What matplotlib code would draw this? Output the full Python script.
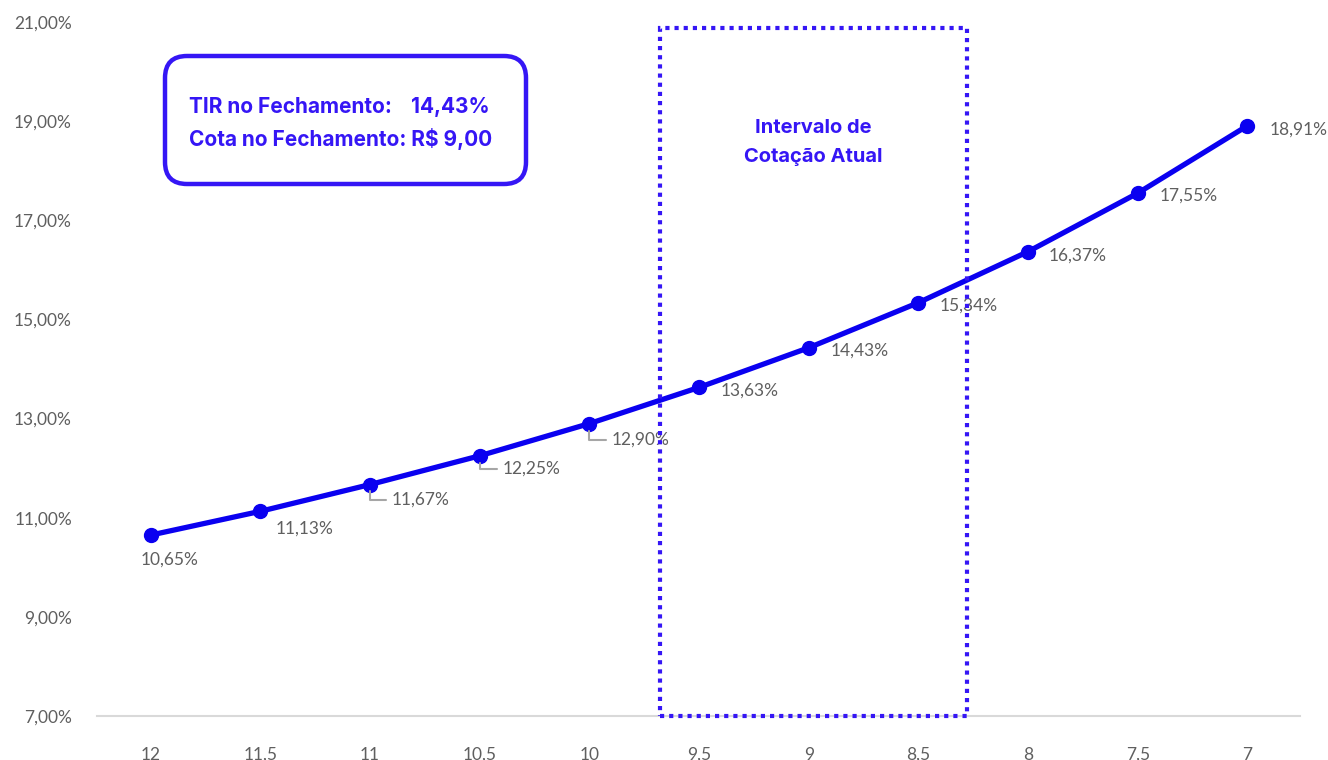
import matplotlib.pyplot as plt
from matplotlib.patches import Rectangle, FancyBboxPatch
from matplotlib.transforms import IdentityTransform

# cotação (R$) no eixo x e TIR (%) correspondente
cotas = ['12', '11,5', '11', '10,5', '10', '9,5', '9', '8,5', '8', '7,5', '7']
tir = [10.65, 11.13, 11.67, 12.25, 12.90, 13.63, 14.43, 15.34, 16.37, 17.55, 18.91]
y_ticks = [7, 9, 11, 13, 15, 17, 19, 21]

# faixa de cotação atual (entre 9,5 e 8,5, em índices de categoria)
faixa_ini, faixa_fim = 4.64, 7.44

tir_fechamento = '14,43%'
cota_fechamento = 'R$ 9,00'

BLUE = '#0A00F0'
BOX_BLUE = '#3516F5'
GRAY = '#5F5F5F'
LEADER = '#A6A6A6'
NUM_FONT = 'Lato'
BOLD_FONT = 'Inter'


def pct(v):
    return f'{v:.2f}%'.replace('.', ',')


fig = plt.figure(figsize=(13.28, 7.6), dpi=100)
ax = fig.add_axes([0.073, 0.0579, 0.906, 0.913])

x = list(range(len(cotas)))
ax.plot(x, tir, color=BLUE, lw=3.8, marker='o', ms=10, zorder=3)

ax.set_xlim(-0.49, 10.48)
ax.set_ylim(7, 21)
ax.set_xticks(x)
ax.set_xticklabels(cotas)
ax.set_yticks(y_ticks)
ax.set_yticklabels([pct(v) for v in y_ticks])
ax.tick_params(axis='both', length=0, labelsize=12.5, labelcolor=GRAY)
ax.tick_params(axis='y', pad=18)
ax.tick_params(axis='x', pad=22)
for lbl in ax.get_xticklabels() + ax.get_yticklabels():
    lbl.set_fontfamily(NUM_FONT)

for side in ['left', 'right', 'top']:
    ax.spines[side].set_visible(False)
ax.spines['bottom'].set_color('#D9D9D9')
ax.spines['bottom'].set_linewidth(1.5)

# rótulos de dados: (dx, dy) em pixels, com ou sem linha guia
offsets = {0: (-10, -25), 1: (15, -17), 5: (22, -3), 6: (22, -3), 7: (21, -3),
           8: (21, -4), 9: (22, -3), 10: (22, -4)}
leaders = {2: (22, -15), 3: (23, -13), 4: (22, -16)}
for i, v in enumerate(tir):
    if i in leaders:
        dx, dy = leaders[i]
        ax.annotate(pct(v), xy=(i, v), xytext=(dx, dy), textcoords='offset pixels',
                    ha='left', va='center', fontsize=12.5, color=GRAY, family=NUM_FONT,
                    arrowprops=dict(arrowstyle='-', color=LEADER, lw=1.5,
                                    connectionstyle='angle,angleA=0,angleB=90,rad=0',
                                    shrinkA=2, shrinkB=5, relpos=(0, 0.5)))
    else:
        dx, dy = offsets[i]
        ax.annotate(pct(v), xy=(i, v), xytext=(dx, dy), textcoords='offset pixels',
                    ha='left', va='center', fontsize=12.5, color=GRAY, family=NUM_FONT)

# retângulo pontilhado da faixa de cotação atual
ax.add_patch(Rectangle((faixa_ini, 7), faixa_fim - faixa_ini, 20.88 - 7, fill=False,
                       ec=BOX_BLUE, lw=3, ls=(0, (1, 1.2)), zorder=4, clip_on=False))
ax.text((faixa_ini + faixa_fim) / 2, 18.57, 'Intervalo de\nCotação Atual', ha='center',
        va='center', fontsize=14.5, fontweight='bold', color=BOX_BLUE, family=BOLD_FONT,
        linespacing=1.8)

# caixa com TIR e cota no fechamento (coordenadas em pixels)
fig.patches.append(FancyBboxPatch((165, 760 - 184), 361, 128,
                                  boxstyle='round,pad=0,rounding_size=22',
                                  transform=IdentityTransform(), fill=False,
                                  ec=BOX_BLUE, lw=3.2, figure=fig))
fig.text(189 / 1328, 1 - 107 / 760, 'TIR no Fechamento:', ha='left', va='center',
         fontsize=15, fontweight='bold', color=BOX_BLUE, family=BOLD_FONT)
fig.text(490 / 1328, 1 - 107 / 760, tir_fechamento, ha='right', va='center',
         fontsize=15, fontweight='bold', color=BOX_BLUE, family=BOLD_FONT)
fig.text(189 / 1328, 1 - 139 / 760, f'Cota no Fechamento: {cota_fechamento}', ha='left',
         va='center', fontsize=15, fontweight='bold', color=BOX_BLUE, family=BOLD_FONT)

fig.savefig('out.png', dpi=100)
